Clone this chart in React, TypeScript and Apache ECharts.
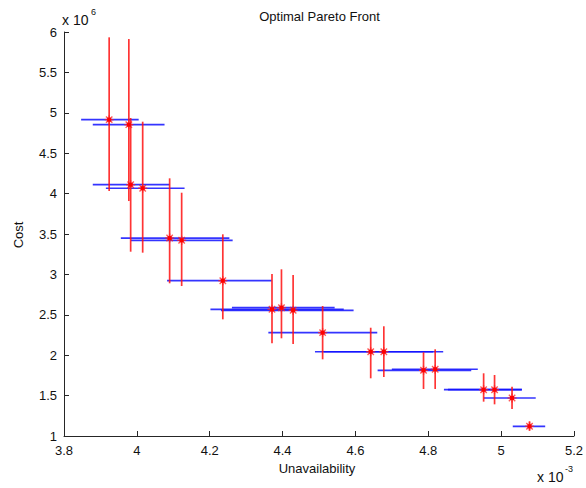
import React, { useEffect, useRef } from "react";
import * as echarts from "echarts";

// Unavailability (x 10^-3) and Cost (x 10^6)
const xVals = [3.924, 3.978, 3.983, 4.016, 4.090, 4.123, 4.236, 4.371, 4.397, 4.429, 4.510, 4.642, 4.678, 4.787, 4.819, 4.952, 4.982, 5.030, 5.078];
const yVals = [4.915, 4.853, 4.110, 4.066, 3.450, 3.422, 2.922, 2.568, 2.588, 2.556, 2.279, 2.043, 2.043, 1.813, 1.826, 1.573, 1.573, 1.470, 1.120];
const xLow = [3.847, 3.879, 3.879, 3.915, 3.956, 3.984, 4.083, 4.202, 4.261, 4.231, 4.361, 4.489, 4.513, 4.661, 4.700, 4.843, 4.854, 4.953, 5.032];
const xHigh = [4.005, 4.076, 4.090, 4.131, 4.254, 4.263, 4.370, 4.568, 4.543, 4.595, 4.660, 4.813, 4.841, 4.918, 4.936, 5.057, 5.057, 5.095, 5.121];
const yLow = [4.032, 3.908, 3.281, 3.269, 2.890, 2.856, 2.444, 2.147, 2.209, 2.139, 1.949, 1.714, 1.730, 1.582, 1.582, 1.425, 1.392, 1.334, 1.066];
const yHigh = [5.934, 5.913, 4.936, 4.890, 4.189, 4.011, 3.496, 3.005, 3.063, 2.993, 2.609, 2.340, 2.358, 2.036, 2.073, 1.776, 1.755, 1.610, 1.182];

const title = "Optimal Pareto Front";
const xName = "Unavailability";
const yName = "Cost";

const FONT = "'Liberation Sans', Arial, sans-serif";

export default function App() {
  const ref = useRef<HTMLDivElement>(null);
  useEffect(() => {
    if (!ref.current) return;
    const chart = echarts.init(ref.current, undefined, { renderer: "svg" });
    const data = xVals.map((x, i) => [x, yVals[i], xLow[i], xHigh[i], yLow[i], yHigh[i]]);
    const option: any = {
      animation: false,
      backgroundColor: "#ffffff",
      textStyle: { fontFamily: FONT },
      grid: { left: 64, right: 11, top: 32, bottom: 52, containLabel: false },
      xAxis: {
        type: "value",
        min: 3.8,
        max: 5.2,
        interval: 0.2,
        axisLine: { show: true, lineStyle: { color: "#262626", width: 1 } },
        axisTick: { show: true, inside: true, length: 5, lineStyle: { color: "#262626" } },
        axisLabel: { color: "#111", fontSize: 13, margin: 8, fontFamily: FONT },
        splitLine: { show: false },
      },
      yAxis: {
        type: "value",
        min: 1,
        max: 6,
        interval: 0.5,
        axisLine: { show: true, lineStyle: { color: "#262626", width: 1 } },
        axisTick: { show: true, inside: true, length: 5, lineStyle: { color: "#262626" } },
        axisLabel: { color: "#111", fontSize: 13, margin: 7, fontFamily: FONT },
        splitLine: { show: false },
      },
      series: [
        {
          type: "custom",
          z: 2,
          clip: false,
          data,
          encode: { x: 0, y: 1 },
          renderItem: (params: any, api: any) => {
            const y = api.value(1);
            const p1 = api.coord([api.value(2), y]);
            const p2 = api.coord([api.value(3), y]);
            return {
              type: "line",
              shape: { x1: p1[0], y1: p1[1], x2: p2[0], y2: p2[1] },
              style: { stroke: "#1010ff", lineWidth: 1.7, opacity: 0.85 },
            };
          },
        },
        {
          type: "custom",
          z: 3,
          clip: false,
          data,
          encode: { x: 0, y: 1 },
          renderItem: (params: any, api: any) => {
            const x = api.value(0);
            const p1 = api.coord([x, api.value(4)]);
            const p2 = api.coord([x, api.value(5)]);
            return {
              type: "line",
              shape: { x1: p1[0], y1: p1[1], x2: p2[0], y2: p2[1] },
              style: { stroke: "#ff1010", lineWidth: 1.7, opacity: 0.85 },
            };
          },
        },
        {
          type: "custom",
          z: 4,
          clip: false,
          data,
          encode: { x: 0, y: 1 },
          renderItem: (params: any, api: any) => {
            const c = api.coord([api.value(0), api.value(1)]);
            const r = 4.5;
            const d = 3.2;
            const st = { stroke: "#ff2020", lineWidth: 1.4, opacity: 0.75 };
            return {
              type: "group",
              children: [
                { type: "line", shape: { x1: c[0] - r, y1: c[1], x2: c[0] + r, y2: c[1] }, style: st },
                { type: "line", shape: { x1: c[0], y1: c[1] - r, x2: c[0], y2: c[1] + r }, style: st },
                { type: "line", shape: { x1: c[0] - d, y1: c[1] - d, x2: c[0] + d, y2: c[1] + d }, style: st },
                { type: "line", shape: { x1: c[0] - d, y1: c[1] + d, x2: c[0] + d, y2: c[1] - d }, style: st },
                { type: "rect", shape: { x: c[0] - 2, y: c[1] - 2, width: 4, height: 4 }, style: { fill: "#ff0000" } },
              ],
            };
          },
        },
      ],
      graphic: [
        {
          type: "text",
          x: 319.5,
          y: 10,
          style: { text: title, fontSize: 13, fill: "#111", fontFamily: FONT, align: "center", verticalAlign: "top" },
        },
        {
          type: "text",
          x: 18,
          y: 235,
          rotation: Math.PI / 2,
          style: { text: yName, fontSize: 13, fill: "#111", fontFamily: FONT, align: "center", verticalAlign: "middle" },
        },
        {
          type: "text",
          x: 317,
          y: 468,
          style: { text: xName, fontSize: 13, fill: "#111", fontFamily: FONT, align: "center", verticalAlign: "middle" },
        },
        {
          type: "text",
          x: 62,
          y: 13,
          style: { text: "x 10", fontSize: 14, fill: "#111", fontFamily: FONT, align: "left", verticalAlign: "top" },
        },
        {
          type: "text",
          x: 91,
          y: 7,
          style: { text: "6", fontSize: 9, fill: "#111", fontFamily: FONT, align: "left", verticalAlign: "top" },
        },
        {
          type: "text",
          x: 537,
          y: 470,
          style: { text: "x 10", fontSize: 14, fill: "#111", fontFamily: FONT, align: "left", verticalAlign: "top" },
        },
        {
          type: "text",
          x: 565,
          y: 464,
          style: { text: "-3", fontSize: 9, fill: "#111", fontFamily: FONT, align: "left", verticalAlign: "top" },
        },
      ],
    };
    chart.setOption(option);
    return () => chart.dispose();
  }, []);
  return <div ref={ref} style={{ width: 586, height: 488, position: "absolute", left: 0, top: 0 }} />;
}
